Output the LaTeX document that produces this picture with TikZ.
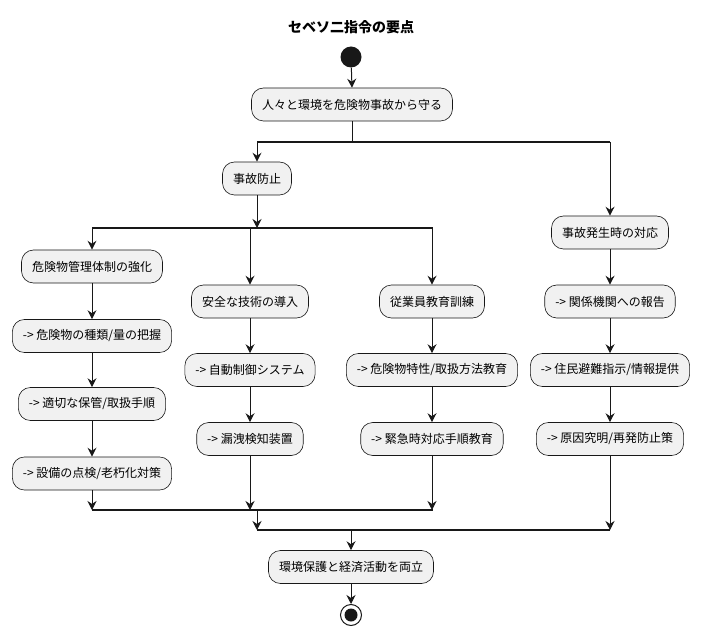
\documentclass[tikz,border=0pt]{standalone}
\usepackage{fontspec}
\setmainfont{Noto Sans CJK JP}
\usetikzlibrary{arrows.meta}
\definecolor{actfill}{HTML}{F1F1F1}
\definecolor{lineclr}{HTML}{181818}
\tikzset{
  act/.style={draw=lineclr, fill=actfill, rounded corners=12pt, minimum height=33pt,
    inner xsep=10.5pt, inner ysep=0pt, font=\fontsize{12}{14}\selectfont, line width=0.6pt},
  flow/.style={draw=lineclr, -{Stealth[length=9pt,width=9pt,inset=3pt]}, line width=1pt},
  plain/.style={draw=lineclr, line width=1pt},
  bar/.style={draw=lineclr, line width=1.6pt},
}
\begin{document}
\begin{tikzpicture}[x=1pt,y=-1pt]
\useasboundingbox (0,0) rectangle (701,636);
\node[font=\fontsize{14}{16}\selectfont\bfseries] (title) at (351,27) {セベソ二指令の要点};
\node[circle, fill=lineclr, minimum size=21pt, inner sep=0pt] (start) at (351,57) {};
\node[act] (goal) at (352,104.5) {人々と環境を危険物事故から守る};
\node[act] (prev) at (257,178.5) {事故防止};
\node[act] (resp) at (610,232.5) {事故発生時の対応};
\node[act] (a1) at (92,266.5) {危険物管理体制の強化};
\node[act] (a2) at (92,336) {-> 危険物の種類/量の把握};
\node[act] (a3) at (92,404) {-> 適切な保管/取扱手順};
\node[act] (a4) at (92,473.5) {-> 設備の点検/老朽化対策};
\node[act] (b1) at (250,301.5) {安全な技術の導入};
\node[act] (b2) at (250,370) {-> 自動制御システム};
\node[act] (b3) at (250,439) {-> 漏洩検知装置};
\node[act] (c1) at (432,301.5) {従業員教育訓練};
\node[act] (c2) at (432,370) {-> 危険物特性/取扱方法教育};
\node[act] (c3) at (432,439) {-> 緊急時対応手順教育};
\node[act] (d1) at (610,301.5) {-> 関係機関への報告};
\node[act] (d2) at (610,370) {-> 住民避難指示/情報提供};
\node[act] (d3) at (610,439) {-> 原因究明/再発防止策};
\node[act] (fin) at (351,567) {環境保護と経済活動を両立};
\node[circle, draw=lineclr, fill=white, line width=1pt, minimum size=21pt, inner sep=0pt] (stop) at (351,615) {};
\fill[lineclr] (stop.center) circle (6.5pt);
% split 1
\coordinate (s1) at (352,142);
\coordinate (s1l) at (257,142);
\coordinate (s1r) at (610,142);
\draw[flow] (start) -- (goal.north);
\draw[plain] (goal.south) -- (s1);
\draw[bar] (s1l) -- (s1r);
\draw[flow] (s1l) -- (prev.north);
\draw[flow] (s1r) -- (resp.north);
% split 2
\coordinate (s2) at (257,228);
\coordinate (s2l) at (92,228);
\coordinate (s2m) at (250,228);
\coordinate (s2r) at (432,228);
\draw[flow] (prev.south) -- (s2);
\draw[bar] (s2l) -- (433,228);
\draw[flow] (s2l) -- (a1.north);
\draw[flow] (s2m) -- (b1.north);
\draw[flow] (s2r) -- (c1.north);
% columns
\draw[flow] (a1) -- (a2);
\draw[flow] (a2) -- (a3);
\draw[flow] (a3) -- (a4);
\draw[flow] (b1) -- (b2);
\draw[flow] (b2) -- (b3);
\draw[flow] (c1) -- (c2);
\draw[flow] (c2) -- (c3);
\draw[flow] (resp) -- (d1);
\draw[flow] (d1) -- (d2);
\draw[flow] (d2) -- (d3);
% merge 1
\coordinate (m1l) at (92,510);
\coordinate (m1b) at (250,510);
\coordinate (m1r) at (432,510);
\coordinate (m1o) at (257,510);
\draw[flow] (a4.south) -- (m1l);
\draw[flow] (b3.south) -- (m1b);
\draw[flow] (c3.south) -- (m1r);
\draw[bar] (m1l) -- (433,510);
% merge 2
\coordinate (m2l) at (257,530);
\coordinate (m2m) at (351,530);
\coordinate (m2r) at (610,530);
\draw[flow] (m1o) -- (m2l);
\draw[flow] (d3.south) -- (m2r);
\draw[bar] (m2l) -- (m2r);
\draw[flow] (m2m) -- (fin.north);
\draw[flow] (fin.south) -- (stop.north);
\end{tikzpicture}
\end{document}
